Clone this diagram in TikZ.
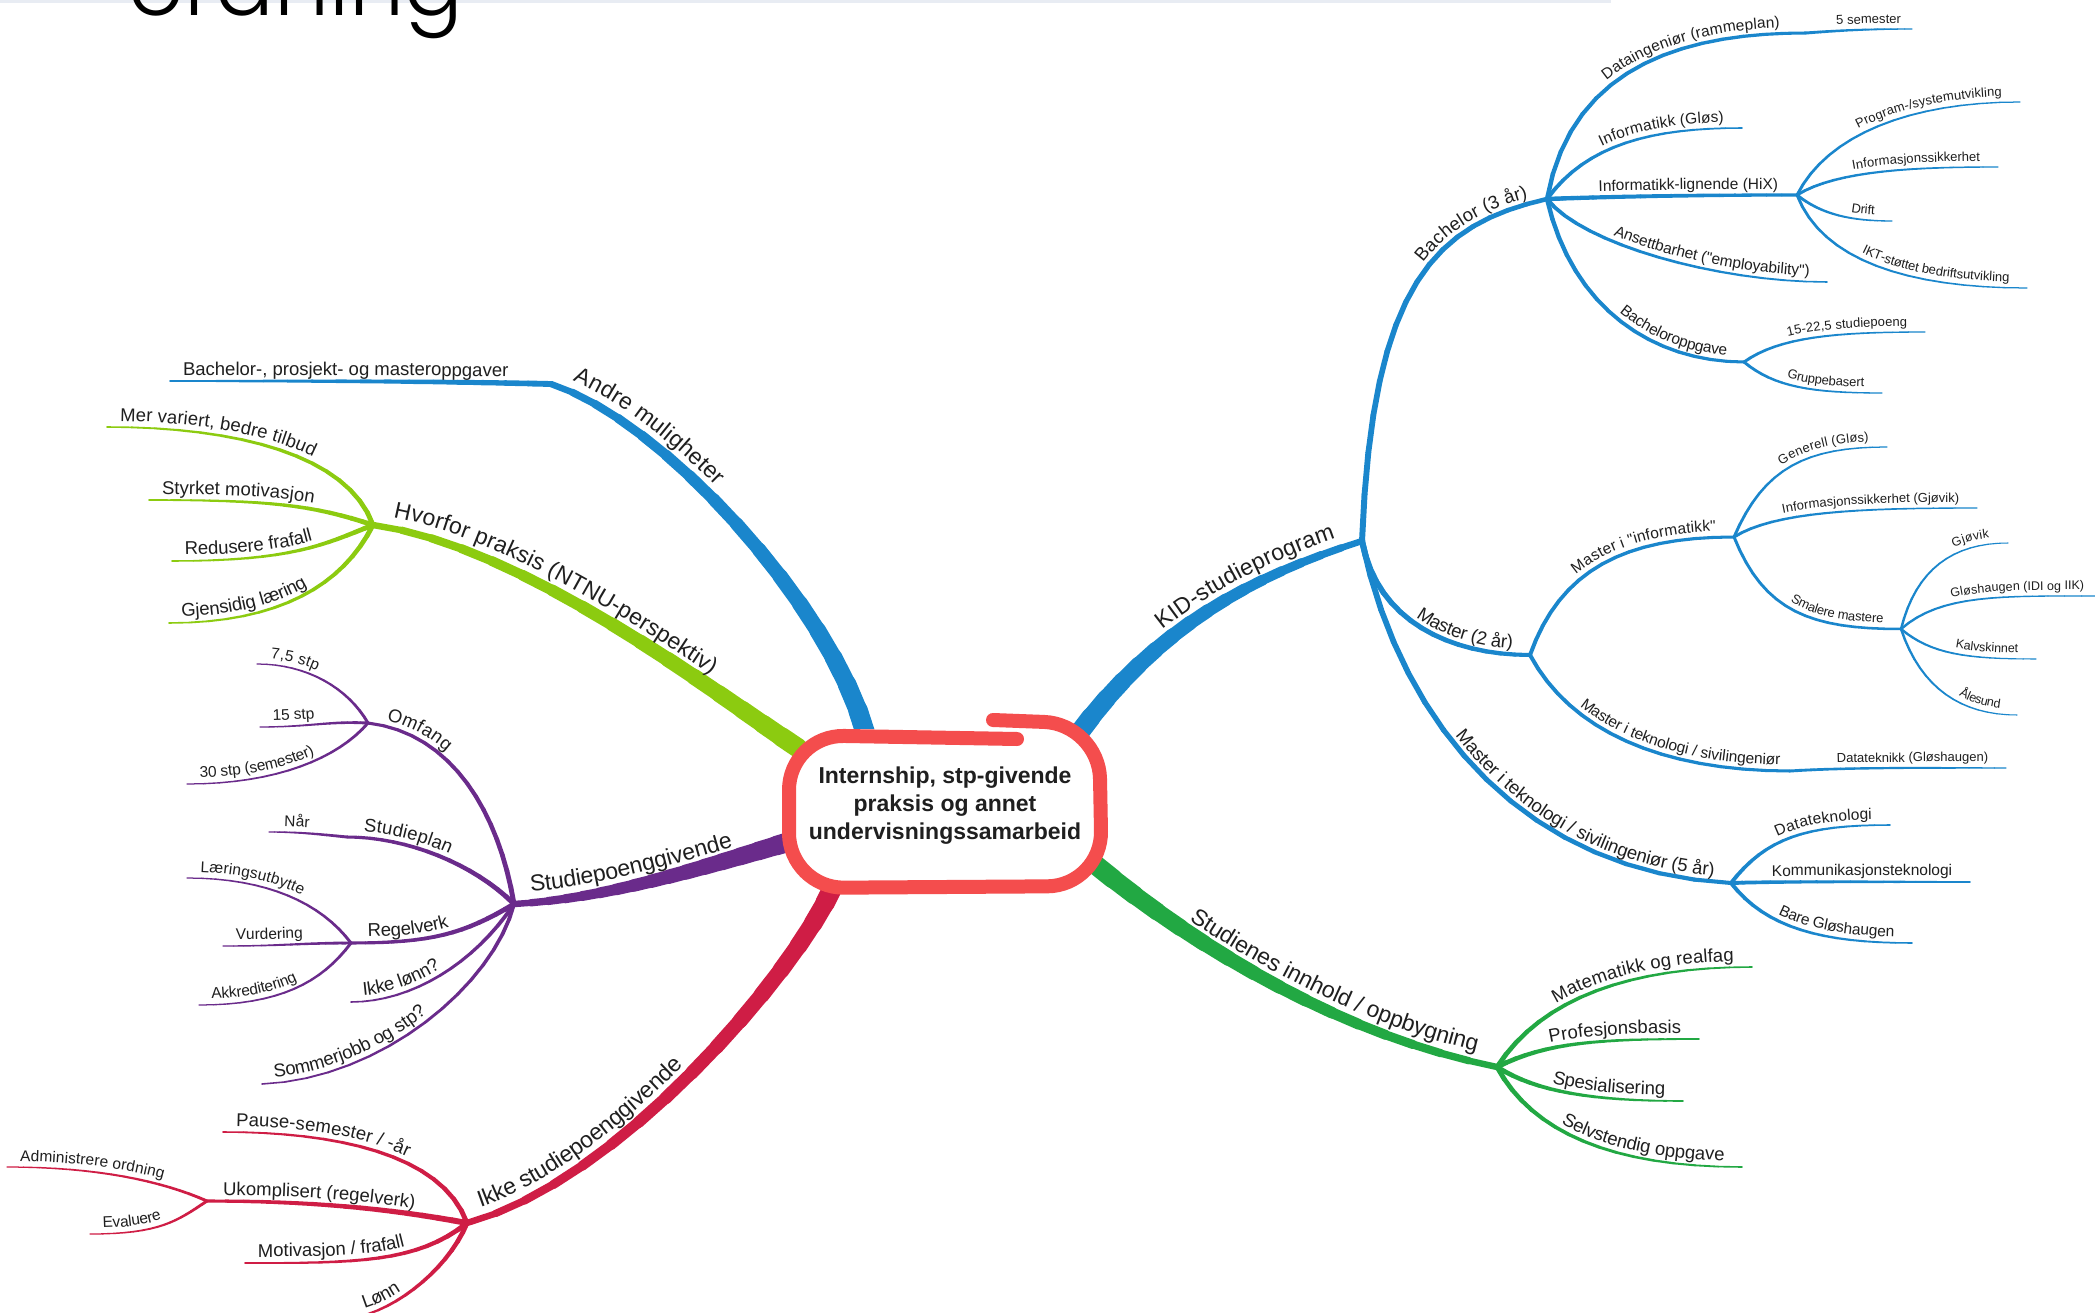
\documentclass[tikz,border=0pt]{standalone}
\usepackage{fontspec}
\setmainfont{Liberation Sans}[Ligatures=TeXOff]
\IfFontExistsTF{Poppins Light}
  {\newfontfamily\titlefnt{Poppins Light}}
  {\newfontfamily\titlefnt{Poppins}}
\usetikzlibrary{decorations.text}

\definecolor{kidblue}{HTML}{1A86CC}
\definecolor{innhgreen}{HTML}{22A843}
\definecolor{whygreen}{HTML}{8CCB10}
\definecolor{stppurple}{HTML}{6A2B8B}
\definecolor{ikkered}{HTML}{CF1D45}
\definecolor{hubred}{HTML}{F44D4D}
\definecolor{ink}{HTML}{1F1F1F}
\definecolor{topband}{HTML}{E8ECF3}

\newcommand\fmain{\fontsize{23}{27}\selectfont}
\newcommand\ftwo{\fontsize{18.5}{22}\selectfont}
\newcommand\fthree{\fontsize{15.5}{18}\selectfont}
\newcommand\ffour{\fontsize{13}{15}\selectfont}
\newcommand\ffive{\fontsize{12.5}{15}\selectfont}

% tapered branch; its label is set along the same curve
\newcommand\twig[8]{%
  \path (#2) .. controls #3 and #4 .. (#5)
    \foreach \seg in {0,...,16}{coordinate[pos=\seg/16] (q\seg)};
  \foreach \seg in {1,...,16}{%
    \pgfmathtruncatemacro\kp{\seg-1}%
    \pgfmathsetmacro\lw{#6+(#7-#6)*(\seg-0.5)/16}%
    \draw[color=#1, line width=\lw pt, line cap=round] (q\kp) -- (q\seg);
  }
  \path[#8] (#2) .. controls #3 and #4 .. (#5);
}

\tikzset{
  rt/.style 2 args={decorate, decoration={text along path, text={|\color{ink}#1|#2},
      text align={right, right indent=18pt}, raise=6pt}},
  lt/.style 2 args={decorate, decoration={text along path, text={|\color{ink}#1|#2},
      text align={left, left indent=13pt}, raise=6pt}},
  rtm/.style 2 args={rt={#1}{#2}, decoration={raise=11pt, text align={right indent=24pt}}},
  ltm/.style 2 args={lt={#1}{#2}, decoration={raise=11pt, text align={left indent=18pt}}},
  ind/.style={decoration={text align={left indent=#1pt, right indent=#1pt}}},
}

\begin{document}
\begin{tikzpicture}[x=1pt, y=-1pt]
  \useasboundingbox (0,0) rectangle (2095,1313);
  \clip (0,0) rectangle (2095,1313);
  \fill[white] (0,0) rectangle (2095,1313);

  % ports on the central box
  \coordinate (pKID) at (1076,737);
  \coordinate (pINN) at (1092,862);
  \coordinate (pIKKE) at (834,885);
  \coordinate (pSTP) at (795,840);
  \coordinate (pWHY) at (798,748);
  \coordinate (pAND) at (866,735);

  % junctions
  \coordinate (K) at (1362,541);
  \coordinate (B) at (1547,199);
  \coordinate (M2) at (1530,655);
  \coordinate (M5) at (1731,883);
  \coordinate (MI) at (1734,537);
  \coordinate (MT) at (1790,771);
  \coordinate (SM) at (1901,629);
  \coordinate (DI) at (1806,33);
  \coordinate (IL) at (1797,195);
  \coordinate (BO) at (1744,362);
  \coordinate (G) at (1497,1067);
  \coordinate (R) at (467,1223);
  \coordinate (U) at (207,1201);
  \coordinate (P) at (514,904);
  \coordinate (O) at (368,723);
  \coordinate (SP) at (347,837);
  \coordinate (RG) at (351,943);
  \coordinate (H) at (373,525);
  \coordinate (A) at (551,384);

  % free ends
  \coordinate (e5) at (1912,29);
  \coordinate (eInfG) at (1742,128);
  \coordinate (eAns) at (1827,282);
  \coordinate (eProg) at (2020,102);
  \coordinate (eIsk) at (1998,167);
  \coordinate (eDrift) at (1892,221);
  \coordinate (eIkt) at (2027,288);
  \coordinate (e1522) at (1925,332);
  \coordinate (eGrp) at (1882,393);
  \coordinate (eGen) at (1887,447);
  \coordinate (eIsg) at (1977,508);
  \coordinate (eGjo) at (2008,543);
  \coordinate (eGlo) at (2100,596);
  \coordinate (eKal) at (2036,659);
  \coordinate (eAle) at (2017,715);
  \coordinate (eDtk) at (2006,768);
  \coordinate (eDtl) at (1890,825);
  \coordinate (eKom) at (1970,882);
  \coordinate (eBare) at (1912,943);
  \coordinate (eMat) at (1752,967);
  \coordinate (eProf) at (1699,1039);
  \coordinate (eSpes) at (1683,1101);
  \coordinate (eSelv) at (1742,1167);
  \coordinate (ePause) at (223,1132);
  \coordinate (eAdm) at (7,1167);
  \coordinate (eEva) at (90,1234);
  \coordinate (eMot) at (245,1263);
  \coordinate (eLonn) at (345,1318);
  \coordinate (e75) at (257,664);
  \coordinate (e15) at (260,727);
  \coordinate (e30) at (187,784);
  \coordinate (eNar) at (269,832);
  \coordinate (eLaer) at (187,878);
  \coordinate (eVur) at (223,946);
  \coordinate (eAkk) at (199,1005);
  \coordinate (eIkkeL) at (351,1002);
  \coordinate (eSom) at (262,1084);
  \coordinate (eMer) at (107,427);
  \coordinate (eSty) at (149,500);
  \coordinate (eRed) at (172,561);
  \coordinate (eGje) at (169,623);
  \coordinate (eBpm) at (170,381);

  % main branches
  \twig{kidblue}{pKID}{+(80,-110)}{+(-110,35)}{K}{20}{6}{rtm={\fmain}{KID-studieprogram}}
  \twig{innhgreen}{pINN}{+(110,90)}{+(-150,-30)}{G}{20}{6}{rtm={\fmain}{Studienes innhold / oppbygning}}
  \twig{ikkered}{R}{+(150,-40)}{+(-40,90)}{pIKKE}{6}{20}{ltm={\fmain}{Ikke studiepoenggivende}}
  \twig{stppurple}{P}{+(90,-5)}{+(-100,30)}{pSTP}{6}{20}{ltm={\fmain}{Studiepoenggivende}}
  \twig{whygreen}{H}{+(150,20)}{+(-80,-53)}{pWHY}{6}{20}{ltm={\fmain}{Hvorfor praksis (NTNU-perspektiv)}}
  \twig{kidblue}{A}{+(110,35)}{+(-35,-130)}{pAND}{6}{20}{ltm={\fmain}{Andre muligheter}}

  % KID-studieprogram
  \twig{kidblue}{K}{+(10,-260)}{+(-110,25)}{B}{6}{4.5}{rt={\ftwo}{Bachelor (3 år)}}
  \twig{kidblue}{K}{+(15,80)}{+(-80,0)}{M2}{6}{4}{rt={\ftwo}{Master (2 år)}}
  \twig{kidblue}{K}{+(40,190)}{+(-200,-10)}{M5}{6}{4}{rt={\ftwo}{Master i teknologi / sivilingeniør (5 år)}}

  \twig{kidblue}{B}{+(25,-140)}{+(-110,0)}{DI}{4.5}{3}{rt={\fthree}{Dataingeniør (rammeplan)}, ind=26}
  \twig{kidblue}{DI}{+(40,-3)}{+(-40,0)}{e5}{3}{1.2}{rt={\ffour}{5 semester}, ind=11}
  \twig{kidblue}{B}{+(40,-55)}{+(-90,0)}{eInfG}{4}{1.5}{rt={\fthree}{Informatikk (Gløs)}}
  \twig{kidblue}{B}{+(80,-3)}{+(-80,0)}{IL}{4.5}{3}{rt={\fthree}{Informatikk-lignende (HiX)}, ind=19}
  \twig{kidblue}{B}{+(35,45)}{+(-110,0)}{eAns}{4}{1.5}{rt={\fthree}{Ansettbarhet ("employability")}}
  \twig{kidblue}{B}{+(25,110)}{+(-90,0)}{BO}{4.5}{3}{rt={\fthree}{Bacheloroppgave}}

  \twig{kidblue}{IL}{+(30,-60)}{+(-110,0)}{eProg}{3}{1.2}{rt={\ffour}{Program-/systemutvikling}}
  \twig{kidblue}{IL}{+(40,-25)}{+(-80,0)}{eIsk}{3}{1.2}{rt={\ffour}{Informasjonssikkerhet}}
  \twig{kidblue}{IL}{+(25,20)}{+(-40,0)}{eDrift}{3}{1.2}{rt={\ffour}{Drift}}
  \twig{kidblue}{IL}{+(25,65)}{+(-120,0)}{eIkt}{3}{1.2}{rt={\ffour}{IKT-støttet bedriftsutvikling}}
  \twig{kidblue}{BO}{+(35,-25)}{+(-90,0)}{e1522}{3}{1.2}{rt={\ffour}{15-22,5 studiepoeng}}
  \twig{kidblue}{BO}{+(30,25)}{+(-70,0)}{eGrp}{3}{1.2}{rt={\ffour}{Gruppebasert}}

  \twig{kidblue}{M2}{+(30,-85)}{+(-110,0)}{MI}{4}{3}{rt={\fthree}{Master i "informatikk"}}
  \twig{kidblue}{M2}{+(40,75)}{+(-130,0)}{MT}{4}{3}{rt={\fthree}{Master i teknologi / sivilingeniør}, ind=10}
  \twig{kidblue}{MT}{+(60,-4)}{+(-60,0)}{eDtk}{3}{1.2}{rt={\ffour}{Datateknikk (Gløshaugen)}}
  \twig{kidblue}{MI}{+(30,-70)}{+(-80,0)}{eGen}{3}{1.2}{rt={\ffour}{Generell (Gløs)}}
  \twig{kidblue}{MI}{+(40,-25)}{+(-120,0)}{eIsg}{3}{1.2}{rt={\ffour}{Informasjonssikkerhet (Gjøvik)}}
  \twig{kidblue}{MI}{+(30,75)}{+(-90,0)}{SM}{3}{2.5}{rt={\ffour}{Smalere mastere}}
  \twig{kidblue}{SM}{+(15,-60)}{+(-55,0)}{eGjo}{2.5}{1}{rt={\ffive}{Gjøvik}}
  \twig{kidblue}{SM}{+(40,-35)}{+(-100,0)}{eGlo}{2.5}{1}{rt={\ffive}{Gløshaugen (IDI og IIK)}, ind=16}
  \twig{kidblue}{SM}{+(30,25)}{+(-70,0)}{eKal}{2.5}{1}{rt={\ffive}{Kalvskinnet}}
  \twig{kidblue}{SM}{+(20,60)}{+(-55,0)}{eAle}{2.5}{1}{rt={\ffive}{Ålesund}}

  \twig{kidblue}{M5}{+(35,-45)}{+(-85,0)}{eDtl}{4}{1.5}{rt={\fthree}{Datateknologi}}
  \twig{kidblue}{M5}{+(60,-2)}{+(-60,0)}{eKom}{4}{1.5}{rt={\fthree}{Kommunikasjonsteknologi}}
  \twig{kidblue}{M5}{+(35,45)}{+(-90,0)}{eBare}{4}{1.5}{rt={\fthree}{Bare Gløshaugen}}

  % Studienes innhold
  \twig{innhgreen}{G}{+(45,-70)}{+(-120,0)}{eMat}{5}{1.5}{rt={\ftwo}{Matematikk og realfag}}
  \twig{innhgreen}{G}{+(50,-25)}{+(-100,0)}{eProf}{5}{1.5}{rt={\ftwo}{Profesjonsbasis}}
  \twig{innhgreen}{G}{+(40,25)}{+(-90,0)}{eSpes}{5}{1.5}{rt={\ftwo}{Spesialisering}}
  \twig{innhgreen}{G}{+(35,65)}{+(-130,0)}{eSelv}{5}{1.5}{rt={\ftwo}{Selvstendig oppgave}}

  % Ikke studiepoenggivende
  \twig{ikkered}{ePause}{+(110,0)}{+(-25,-70)}{R}{1.5}{5}{lt={\ftwo}{Pause-semester / -år}}
  \twig{ikkered}{U}{+(100,0)}{+(-80,-15)}{R}{3}{6}{lt={\ftwo}{Ukomplisert (regelverk)}, ind=16}
  \twig{ikkered}{eMot}{+(110,0)}{+(-50,40)}{R}{1.5}{5}{lt={\ftwo}{Motivasjon / frafall}}
  \twig{ikkered}{eLonn}{+(40,0)}{+(-20,50)}{R}{1.5}{5}{lt={\ftwo}{Lønn}, ind=22}
  \twig{ikkered}{eAdm}{+(90,0)}{+(-45,-20)}{U}{1.2}{3}{lt={\fthree}{Administrere ordning}}
  \twig{ikkered}{eEva}{+(70,0)}{+(-30,20)}{U}{1.2}{3}{lt={\fthree}{Evaluere}}

  % Studiepoenggivende
  \twig{stppurple}{O}{+(85,10)}{+(-15,-90)}{P}{3}{5}{lt={\ftwo}{Omfang}, ind=17}
  \twig{stppurple}{SP}{+(60,0)}{+(-40,-40)}{P}{3}{5}{lt={\ftwo}{Studieplan}, ind=16}
  \twig{stppurple}{RG}{+(80,0)}{+(-50,30)}{P}{3}{5}{lt={\ftwo}{Regelverk}, ind=17}
  \twig{stppurple}{eIkkeL}{+(60,0)}{+(-40,60)}{P}{1.5}{4}{lt={\ftwo}{Ikke lønn?}}
  \twig{stppurple}{eSom}{+(120,-5)}{+(-20,80)}{P}{1.5}{4}{lt={\ftwo}{Sommerjobb og stp?}}
  \twig{stppurple}{eNar}{+(30,0)}{+(-30,-3)}{SP}{1.2}{3}{lt={\fthree}{Når}, ind=15}
  \twig{stppurple}{e75}{+(50,0)}{+(-20,-35)}{O}{1.2}{3}{lt={\fthree}{7,5 stp}}
  \twig{stppurple}{e15}{+(50,0)}{+(-40,-2)}{O}{1.2}{3}{lt={\fthree}{15 stp}}
  \twig{stppurple}{e30}{+(90,0)}{+(-30,35)}{O}{1.2}{3}{lt={\fthree}{30 stp (semester)}}
  \twig{stppurple}{eLaer}{+(80,0)}{+(-30,-40)}{RG}{1.2}{3}{lt={\fthree}{Læringsutbytte}}
  \twig{stppurple}{eVur}{+(60,0)}{+(-50,0)}{RG}{1.2}{3}{lt={\fthree}{Vurdering}}
  \twig{stppurple}{eAkk}{+(80,0)}{+(-30,40)}{RG}{1.2}{3}{lt={\fthree}{Akkreditering}}

  % Hvorfor praksis
  \twig{whygreen}{eMer}{+(130,0)}{+(-25,-70)}{H}{1.5}{5}{lt={\ftwo}{Mer variert, bedre tilbud}}
  \twig{whygreen}{eSty}{+(120,0)}{+(-60,-20)}{H}{1.5}{5}{lt={\ftwo}{Styrket motivasjon}}
  \twig{whygreen}{eRed}{+(120,0)}{+(-50,20)}{H}{1.5}{5}{lt={\ftwo}{Redusere frafall}}
  \twig{whygreen}{eGje}{+(110,0)}{+(-30,60)}{H}{1.5}{5}{lt={\ftwo}{Gjensidig læring}}

  % Andre muligheter
  \twig{kidblue}{eBpm}{+(120,0)}{+(-120,-3)}{A}{1.5}{6}{lt={\ftwo}{Bachelor-, prosjekt- og masteroppgaver}}

  % central box
  \fill[white, rounded corners=50] (790,729) rectangle (1100,887);
  \draw[hubred, line width=14pt, line cap=round, rounded corners=55]
    (993,720) -- (1099,724) -- (1102,886) -- (789,888) -- (789,735) -- (1017,739);
  \node[font=\bfseries\fontsize{23}{28}\selectfont, align=center, text=ink] (hub) at (945,806)
    {Internship, stp-givende\\praksis og annet\\undervisningssamarbeid};

  % title remnant at the top edge
  \fill[topband] (0,0) rectangle (1611,3);
  \node[anchor=base west, inner sep=0pt, text=black, font=\titlefnt\fontsize{87}{87}\selectfont]
    (title) at (128,16) {ordning};
\end{tikzpicture}
\end{document}
